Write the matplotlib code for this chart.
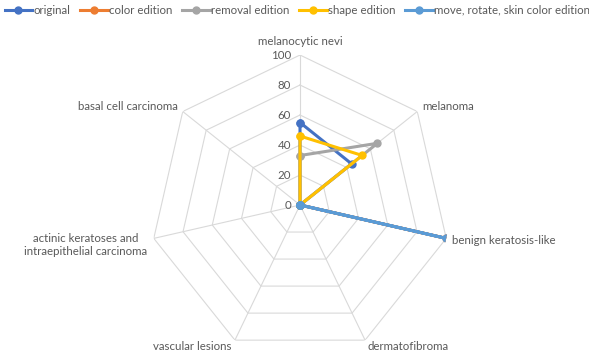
import numpy as np
import matplotlib.pyplot as plt
from matplotlib.transforms import offset_copy

plt.rcParams['font.family'] = ['Lato', 'DejaVu Sans']

# categories and series values
categories = ["melanocytic nevi", "melanoma", "benign keratosis-like", "dermatofibroma",
              "vascular lesions", "actinic keratoses and\nintraepithelial carcinoma",
              "basal cell carcinoma"]
original = [55, 44, 0, 0, 0, 0, 0]
color_edition = [0, 0, 100, 0, 0, 0, 0]
removal_edition = [33, 66, 0, 0, 0, 0, 0]
shape_edition = [46, 53, 0, 0, 0, 0, 0]
move_rotate_skin = [0, 0, 100, 0, 0, 0, 0]
r_ticks = [0, 20, 40, 60, 80, 100]

series = [
    ("original", original, "#4472C4"),
    ("color edition", color_edition, "#ED7D31"),
    ("removal edition", removal_edition, "#A5A5A5"),
    ("shape edition", shape_edition, "#FFC000"),
    ("move, rotate, skin color edition", move_rotate_skin, "#5B9BD5"),
]

n = len(categories)
angles = np.linspace(0, 2 * np.pi, n, endpoint=False)
closed = np.append(angles, angles[0])

fig = plt.figure(figsize=(5.89, 3.57), dpi=100)
ax = fig.add_axes([0.2547, 0.0056, 0.5093, 0.8403], polar=True)
ax.set_theta_zero_location('N')
ax.set_theta_direction(-1)
ax.set_ylim(0, 100)
ax.grid(False)
ax.spines['polar'].set_visible(False)
ax.set_xticks([])
ax.set_yticks([])

grid_c = "#D9D9D9"
for r in r_ticks[1:]:
    ax.plot(closed, [r] * (n + 1), color=grid_c, lw=0.8, zorder=1)
for a in angles:
    ax.plot([a, a], [0, 100], color=grid_c, lw=0.8, zorder=1)

txt_c = "#595959"
fs = 8.3
lab_tr = offset_copy(ax.transData, fig=fig, x=-9, y=0, units='dots')
for r in r_ticks:
    ax.text(0, r, str(r), transform=lab_tr, ha='right', va='center', fontsize=fs, color=txt_c)

for i, (name, vals, c) in enumerate(series):
    v = np.append(vals, vals[0])
    ax.plot(closed, v, color=c, lw=2.2, marker='o', ms=5, label=name, zorder=3 + i)

# category labels
label_pos = [
    (0, 'center', 'bottom', 0, 8),
    (1, 'left', 'center', 5, 5),
    (2, 'left', 'center', 6, -2),
    (3, 'left', 'center', 2, -6),
    (4, 'right', 'center', -3, -6),
    (5, 'right', 'center', -7, -7),
    (6, 'right', 'center', -5, 5),
]
for i, ha, va, dx, dy in label_pos:
    tr = offset_copy(ax.transData, fig=fig, x=dx, y=dy, units='dots')
    ax.text(angles[i], 100, categories[i], transform=tr, ha=ha, va=va,
            fontsize=fs, color=txt_c, multialignment='center')

fig.legend(loc='upper left', bbox_to_anchor=(0.0, 1.0), ncol=5, frameon=False,
           fontsize=fs, labelcolor=txt_c, handlelength=2.4, handletextpad=0.1,
           columnspacing=0.85, borderaxespad=0.2, borderpad=0.2)

fig.savefig("out.png", dpi=100)
